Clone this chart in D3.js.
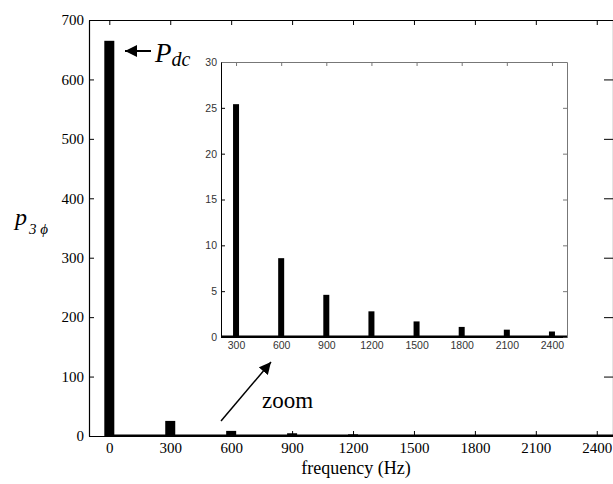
<!DOCTYPE html>
<html><head><meta charset="utf-8">
<script src="https://cdn.jsdelivr.net/npm/d3@7"></script>
<style>
body{margin:0;background:#fff;}
svg{display:block;}
.main text{font-family:"Liberation Serif","Times New Roman",serif;font-size:15px;fill:#000;}
.inset text{font-family:"Liberation Sans",Arial,sans-serif;font-size:10.5px;fill:#333;}
</style></head>
<body>
<svg id="c" width="613" height="484"></svg>
<script>
const freqs = [0, 300, 600, 900, 1200, 1500, 1800, 2100, 2400];
const power = [665, 25.4, 8.6, 4.6, 2.8, 1.7, 1.1, 0.8, 0.6];
const mainYTicks = [0, 100, 200, 300, 400, 500, 600, 700];
const mainXTicks = [0, 300, 600, 900, 1200, 1500, 1800, 2100, 2400];
const insetFreqs = [300, 600, 900, 1200, 1500, 1800, 2100, 2400];
const insetPower = [25.4, 8.6, 4.6, 2.8, 1.7, 1.1, 0.8, 0.6];
const insetYTicks = [0, 5, 10, 15, 20, 25, 30];

const fmt = d3.format("d");
const svg = d3.select("#c");
const defs = svg.append("defs");
defs.append("marker").attr("id","ah").attr("viewBox","0 0 10 10").attr("refX",10).attr("refY",5)
  .attr("markerWidth",12).attr("markerHeight",12).attr("markerUnits","userSpaceOnUse").attr("orient","auto")
  .append("path").attr("d","M0,0L10,5L0,10Z").attr("fill","#000");

// main
const x = d3.scaleLinear().domain([-100, 2480]).range([89, 613]);
const y = d3.scaleLinear().domain([0, 700]).range([436, 20]);
const g = svg.append("g").attr("class","main");

g.append("g").attr("transform","translate(89,0)")
  .call(d3.axisLeft(y).tickValues(mainYTicks).tickFormat(fmt).tickSizeInner(-5).tickSizeOuter(0).tickPadding(4))
  .call(a=>a.selectAll("text").attr("dx","-1"));
g.append("g").attr("transform","translate(0,436)")
  .call(d3.axisBottom(x).tickValues(mainXTicks).tickFormat(fmt).tickSizeInner(-5).tickSizeOuter(0).tickPadding(6));
g.append("g").attr("transform","translate(0,20)")
  .call(d3.axisTop(x).tickValues(mainXTicks).tickSizeInner(-5).tickSizeOuter(0).tickFormat(""));
g.append("g").attr("transform","translate(613,0)")
  .call(d3.axisRight(y).tickValues(mainYTicks).tickSizeInner(-9).tickSizeOuter(0).tickFormat(""));
g.selectAll(".domain").attr("stroke","#000").attr("stroke-width",1.2);
g.selectAll(".tick line").attr("stroke","#000");

g.selectAll("rect.bar").data(freqs).join("rect").attr("class","bar")
  .attr("x", d=>x(d)-5).attr("width",10)
  .attr("y",(d,i)=>y(power[i])).attr("height",(d,i)=>y(0)-y(power[i])).attr("fill","#000");
g.append("line").attr("x1",x(-20)).attr("x2",613).attr("y1",y(0)-0.5).attr("y2",y(0)-0.5)
  .attr("stroke","#000").attr("stroke-width",2);

g.append("text").attr("x",x(1215)).attr("y",474).attr("text-anchor","middle")
  .style("font-size","18px").text("frequency (Hz)");

// y label
const yl = g.append("text").attr("x",15).attr("y",225).style("font-style","italic");
yl.append("tspan").style("font-size","24px").text("p");
yl.append("tspan").attr("dy",9).attr("dx",2).style("font-size","15px").text("3 ϕ");

// Pdc annotation
g.append("line").attr("x1",151).attr("y1",51).attr("x2",125).attr("y2",51)
  .attr("stroke","#000").attr("stroke-width",2).attr("marker-end","url(#ah)");
const pt = g.append("text").attr("x",155).attr("y",62).style("font-style","italic");
pt.append("tspan").style("font-size","27px").text("P");
pt.append("tspan").attr("dy",4).style("font-size","20px").text("dc");

// inset
const xi = d3.scaleLinear().domain([200, 2500]).range([221, 567]);
const yi = d3.scaleLinear().domain([0, 30]).range([337, 62]);
const ig = svg.append("g").attr("class","inset");
ig.append("rect").attr("x",221).attr("y",62).attr("width",346).attr("height",275).attr("fill","#fff");
ig.append("g").attr("transform","translate(221,0)")
  .call(d3.axisLeft(yi).tickValues(insetYTicks).tickFormat(fmt).tickSizeInner(-4).tickSizeOuter(0).tickPadding(4));
ig.append("g").attr("transform","translate(0,337)")
  .call(d3.axisBottom(xi).tickValues(insetFreqs).tickFormat(fmt).tickSizeInner(-4).tickSizeOuter(0).tickPadding(5));
ig.append("g").attr("class","grey").attr("transform","translate(0,62)")
  .call(d3.axisTop(xi).tickValues(insetFreqs).tickSizeInner(-4).tickSizeOuter(0).tickFormat(""));
ig.append("g").attr("class","grey").attr("transform","translate(567,0)")
  .call(d3.axisRight(yi).tickValues(insetYTicks).tickSizeInner(-4).tickSizeOuter(0).tickFormat(""));
ig.selectAll(".domain").attr("stroke","#000");
ig.selectAll(".grey .domain, .grey .tick line").attr("stroke","#777");
ig.selectAll(".tick line").filter(function(){return !this.closest(".grey");}).attr("stroke","#000");

ig.selectAll("rect.bar").data(insetFreqs).join("rect").attr("class","bar")
  .attr("x", d=>xi(d)-3).attr("width",6)
  .attr("y",(d,i)=>yi(insetPower[i])).attr("height",(d,i)=>yi(0)-yi(insetPower[i])).attr("fill","#000");
ig.append("line").attr("x1",221).attr("x2",567).attr("y1",yi(0)-0.5).attr("y2",yi(0)-0.5)
  .attr("stroke","#000").attr("stroke-width",2);

// zoom arrow
g.append("line").attr("x1",221).attr("y1",421).attr("x2",271).attr("y2",362)
  .attr("stroke","#000").attr("stroke-width",1.5).attr("marker-end","url(#ah)");
g.append("text").attr("x",262).attr("y",408).style("font-size","23px").text("zoom");
</script>
</body></html>
